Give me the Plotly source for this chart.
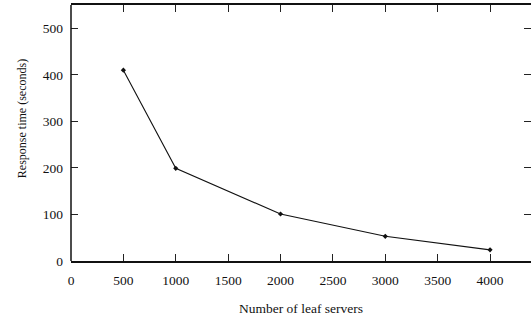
import plotly.graph_objects as go

servers = [500, 1000, 2000, 3000, 4000]
response_time = [410, 199, 101, 53, 24]
x_ticks = [0, 500, 1000, 1500, 2000, 2500, 3000, 3500, 4000]
y_ticks = [0, 100, 200, 300, 400, 500]

FONT = "Liberation Serif"

fig = go.Figure()
fig.add_trace(go.Scatter(
    x=servers, y=response_time, mode="lines+markers",
    line=dict(color="#111", width=1.1),
    marker=dict(symbol="diamond", size=4, color="#111"),
    showlegend=False, cliponaxis=False,
))

fig.update_layout(
    width=531, height=320,
    margin=dict(l=71, r=0, t=5, b=59),
    paper_bgcolor="white", plot_bgcolor="white",
    font=dict(family=FONT, size=13.5, color="#111"),
    xaxis=dict(
        range=[0, 4391], tickvals=x_ticks, ticks="inside", ticklen=7,
        tickwidth=1, tickcolor="#222", showline=True, linecolor="#111",
        linewidth=1.5, mirror="ticks", showgrid=False, zeroline=False,
        tickfont=dict(family=FONT, size=13.5), ticklabelstandoff=6,
    ),
    yaxis=dict(
        range=[0, 550], tickvals=y_ticks, ticks="inside", ticklen=7,
        tickwidth=1, tickcolor="#222", showline=False,
        mirror="ticks", showgrid=False, zeroline=False,
        tickfont=dict(family=FONT, size=13.5), ticklabelstandoff=7,
    ),
    shapes=[dict(type="line", xref="x domain", yref="y domain",
                 x0=0, x1=0, y0=0, y1=1,
                 line=dict(color="#111", width=1.5))],
    annotations=[
        dict(text="Number of leaf servers", xref="paper", yref="paper",
             x=0.5, y=-0.184, yanchor="middle", xanchor="center",
             showarrow=False, font=dict(family=FONT, size=13.5)),
        dict(text="Response time (seconds)", xref="paper", yref="paper",
             x=-0.106, y=0.555, xanchor="center", yanchor="middle", textangle=-90,
             showarrow=False, font=dict(family=FONT, size=12)),
    ],
)

fig.write_html("out.html")
